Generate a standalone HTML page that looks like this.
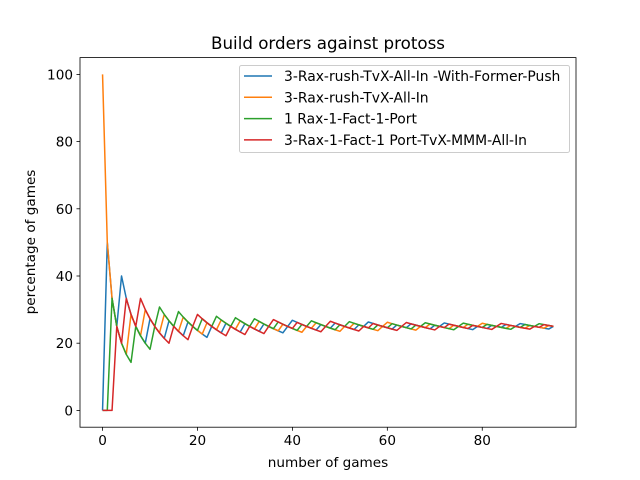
<!DOCTYPE html>
<html><head><meta charset="utf-8"><style>
body{margin:0;background:#fff;}
svg{display:block;font-family:"DejaVu Sans","Liberation Sans",sans-serif;}
</style></head><body>
<svg id="chart" width="640" height="480" viewBox="0 0 640 480">
<rect width="640" height="480" fill="#fff"/>
<text x="328" y="49" font-size="16.7" text-anchor="middle">Build orders against protoss</text>
<g id="plot"></g>
<rect x="80" y="57.6" width="496" height="369.6" fill="none" stroke="#000" stroke-width="0.8"/>
<g id="xticks"></g>
<g id="yticks"></g>
<text x="328" y="467" font-size="13.6" text-anchor="middle">number of games</text>
<text x="0" y="0" font-size="13.6" text-anchor="middle" transform="translate(35,242) rotate(-90)">percentage of games</text>
<g>
<rect x="239.5" y="65.5" width="330" height="87" rx="2" fill="#fff" fill-opacity="0.8" stroke="#ccc" stroke-width="1"/>
<g id="legend"></g>
</g>
</svg>
<script>
// data: which build order was played in each game (0..95)
// 0 = blue, 1 = orange, 2 = green, 3 = red
const seriesNames = ["3-Rax-rush-TvX-All-In -With-Former-Push","3-Rax-rush-TvX-All-In","1 Rax-1-Fact-1-Port","3-Rax-1-Fact-1 Port-TvX-MMM-All-In"];
const seriesColors = ["#1f77b4","#ff7f0e","#2ca02c","#d62728"];
const gameBuilds = [
1,0,2,3, 0,3,1,2, 3,1,0,2, 2,1,0,3,
2,1,0,3, 3,2,1,0, 2,1,0,3, 2,1,0,3,
2,1,0,3, 3,2,1,0, 0,3,2,1, 2,1,0,3,
3,0,2,1, 2,1,0,3, 0,3,2,1, 1,2,0,3,
3,0,2,1, 2,1,0,3, 0,3,1,2, 2,1,3,0,
1,2,0,3, 3,0,1,2, 0,2,1,3, 2,3,1,0
];
const xTicks = [0,20,40,60,80];
const yTicks = [0,20,40,60,80,100];

const NS="http://www.w3.org/2000/svg";
const X0=80,X1=576,Y0=57.6,Y1=427.2;
const xMin=-4.75,xMax=99.75,yMin=-5,yMax=105;
function sx(v){return X0+(v-xMin)/(xMax-xMin)*(X1-X0);}
function sy(v){return Y1-(v-yMin)/(yMax-yMin)*(Y1-Y0);}

const plot=document.getElementById('plot');
seriesNames.forEach((name,s)=>{
  let c=0,pts=[];
  gameBuilds.forEach((b,i)=>{ if(b===s)c++; pts.push(sx(i).toFixed(2)+","+sy(100*c/(i+1)).toFixed(2)); });
  const pl=document.createElementNS(NS,'polyline');
  pl.setAttribute('points',pts.join(' '));
  pl.setAttribute('fill','none');
  pl.setAttribute('stroke',seriesColors[s]);
  pl.setAttribute('stroke-width','1.5');
  pl.setAttribute('stroke-linejoin','round');
  
  
  plot.appendChild(pl);
});

const xg=document.getElementById('xticks');
xTicks.forEach(t=>{
  const l=document.createElementNS(NS,'line');
  l.setAttribute('x1',sx(t));l.setAttribute('x2',sx(t));
  l.setAttribute('y1',Y1);l.setAttribute('y2',Y1+3.5);
  l.setAttribute('stroke','#000');l.setAttribute('stroke-width','0.8');
  
  
  xg.appendChild(l);
  const tx=document.createElementNS(NS,'text');
  tx.setAttribute('x',sx(t));tx.setAttribute('y',Y1+18);
  tx.setAttribute('font-size','13.6');tx.setAttribute('text-anchor','middle');
  tx.textContent=t;
  
  
  xg.appendChild(tx);
});
const yg=document.getElementById('yticks');
yTicks.forEach(t=>{
  const l=document.createElementNS(NS,'line');
  l.setAttribute('x1',X0-3.5);l.setAttribute('x2',X0);
  l.setAttribute('y1',sy(t));l.setAttribute('y2',sy(t));
  l.setAttribute('stroke','#000');l.setAttribute('stroke-width','0.8');
  
  
  yg.appendChild(l);
  const tx=document.createElementNS(NS,'text');
  tx.setAttribute('x',X0-7);tx.setAttribute('y',sy(t)+5);
  tx.setAttribute('font-size','13.6');tx.setAttribute('text-anchor','end');
  tx.textContent=t;
  
  
  yg.appendChild(tx);
});

const lg=document.getElementById('legend');
seriesNames.forEach((name,s)=>{
  const y=76+s*21.3;
  const l=document.createElementNS(NS,'line');
  l.setAttribute('x1',244);l.setAttribute('x2',272);
  l.setAttribute('y1',y);l.setAttribute('y2',y);
  l.setAttribute('stroke',seriesColors[s]);l.setAttribute('stroke-width','1.5');
  
  
  lg.appendChild(l);
  const tx=document.createElementNS(NS,'text');
  tx.setAttribute('x',284);tx.setAttribute('y',y+5);
  tx.setAttribute('font-size','13.9');
  tx.textContent=name;
  
  
  lg.appendChild(tx);
});
</script>
</body></html>
